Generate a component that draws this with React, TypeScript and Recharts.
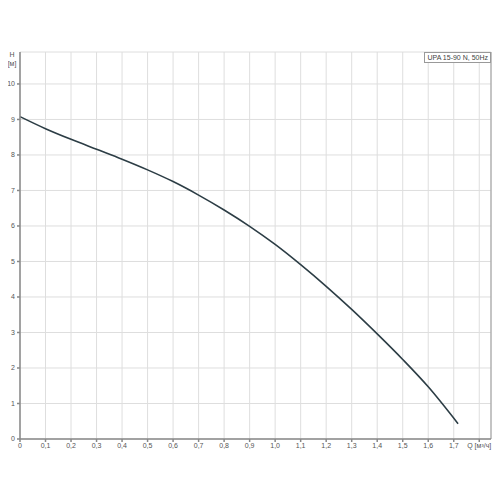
import React from "react";
import {
  LineChart,
  Line,
  XAxis,
  YAxis,
  CartesianGrid,
  Legend,
  ReferenceLine,
} from "recharts";

// pump curve H(Q)
const flow = [0, 0.1, 0.2, 0.3, 0.4, 0.5, 0.6, 0.7, 0.8, 0.9, 1.0, 1.1, 1.2, 1.3, 1.4, 1.5, 1.6, 1.717];
const head = [9.08, 8.74, 8.44, 8.16, 7.88, 7.58, 7.25, 6.87, 6.45, 5.99, 5.48, 4.91, 4.3, 3.65, 2.96, 2.24, 1.47, 0.43];

const xTicks = [0, 0.1, 0.2, 0.3, 0.4, 0.5, 0.6, 0.7, 0.8, 0.9, 1.0, 1.1, 1.2, 1.3, 1.4, 1.5, 1.6, 1.7, 1.8];
const yTicks = [0, 1, 2, 3, 4, 5, 6, 7, 8, 9, 10];
const xMax = 1.846;
const yMax = 10.9;

const seriesName = "UPA 15-90 N, 50Hz";
const xTitle = "Q [м³/ч]";
const yTitle = ["H", "[м]"];

const data = flow.map((q, i) => ({ q, h: head[i] }));

const font = "'Liberation Sans', Arial, sans-serif";
const textColor = "#555";

const fmtX = (v: number) => (v === 0 ? "0" : v.toFixed(1).replace(".", ","));

const XTick = ({ x, y, payload }: any) => {
  const last = payload.value >= 1.8;
  return (
    <text
      x={last ? x + 12 : x}
      y={y}
      dy="0.71em"
      textAnchor={last ? "end" : "middle"}
      fontSize={7}
      fontFamily={font}
      fill={textColor}
    >
      {last ? xTitle : fmtX(payload.value)}
    </text>
  );
};

const LegendBox = () => (
  <div
    style={{
      border: "1px solid #999",
      background: "#fff",
      fontFamily: font,
      fontSize: 7,
      lineHeight: "9px",
      padding: "0 2px",
      color: "#444",
      whiteSpace: "nowrap",
    }}
  >
    {seriesName}
  </div>
);

export default function App() {
  return (
    <div style={{ width: 484, height: 460 }}>
      <LineChart
        width={484}
        height={460}
        data={data}
        margin={{ top: 44, right: 1, bottom: 9, left: 0 }}
      >
        <CartesianGrid stroke="#dedede" strokeWidth={1} />
        <XAxis
          dataKey="q"
          type="number"
          domain={[0, xMax]}
          ticks={xTicks}
          interval={0}
          height={20}
          tickSize={3}
          tickMargin={1}
          stroke="#888"
          strokeWidth={1.5}
          tick={<XTick />}
        />
        <YAxis
          type="number"
          domain={[0, yMax]}
          ticks={yTicks}
          interval={0}
          width={12}
          tickSize={3}
          tickMargin={2}
          stroke="#888"
          strokeWidth={1.5}
          tick={{ fontSize: 7, fontFamily: font, fill: textColor }}
          label={{
            content: () => (
              <text fontSize={7} fontFamily={font} fill={textColor} textAnchor="middle">
                <tspan x={4} y={49}>{yTitle[0]}</tspan>
                <tspan x={4} y={58}>{yTitle[1]}</tspan>
              </text>
            ),
          }}
        />
        <ReferenceLine x={xMax} stroke="#999" strokeWidth={1} />
        <Line
          type="monotone"
          dataKey="h"
          name={seriesName}
          stroke="#2c3d45"
          strokeWidth={1.6}
          dot={false}
          isAnimationActive={false}
        />
        <Legend
          layout="horizontal"
          verticalAlign="middle"
          content={<LegendBox />}
          wrapperStyle={{ position: "absolute", top: 44, right: 1, left: "auto", width: "auto" }}
        />
      </LineChart>
    </div>
  );
}
